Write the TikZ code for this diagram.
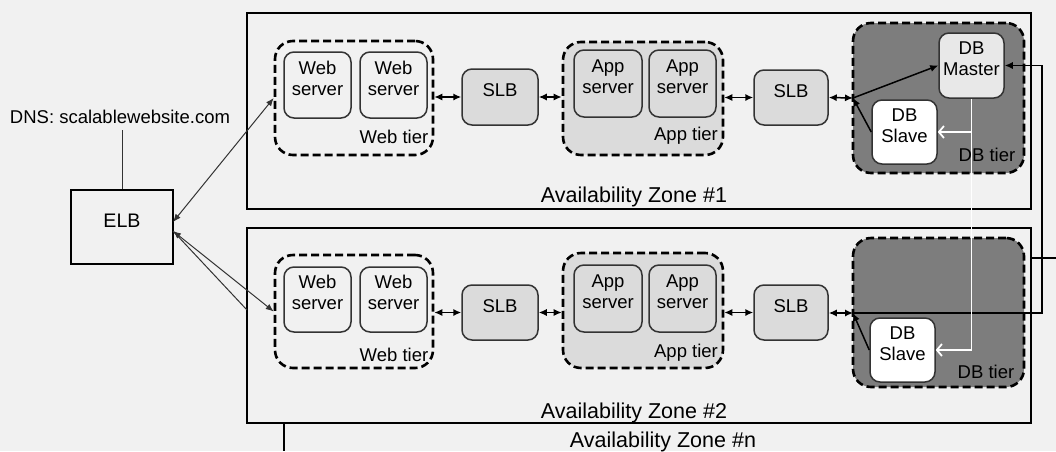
\documentclass[tikz,border=0pt]{standalone}
\usepackage{fontspec}
\setmainfont{Liberation Sans}
\usetikzlibrary{fit,arrows.meta}
\definecolor{bg}{gray}{0.945}
\definecolor{lightfill}{gray}{0.86}
\definecolor{dbfill}{gray}{0.49}
\definecolor{masterfill}{gray}{0.91}
\definecolor{boxline}{gray}{0.2}
\begin{document}
\begin{tikzpicture}[x=0.5pt,y=-0.5pt,
  txt/.style={font=\fontsize{9.25}{10.5}\selectfont, align=center, inner sep=0pt},
  zlab/.style={font=\fontsize{10.75}{12}\selectfont, inner sep=0pt},
  zonebox/.style={draw=black, line width=0.9pt, fill=bg, inner sep=0pt},
  tier/.style={draw=black, line width=1.3pt, dash pattern=on 4pt off 2pt, rounded corners=9pt, inner sep=0pt},
  srv/.style={draw=boxline, line width=0.75pt, rounded corners=5pt, inner sep=0pt, txt},
  dbl/.style={{Latex[length=4pt,width=3.6pt]}-{Latex[length=4pt,width=3.6pt]}, line width=0.75pt},
  thinarr/.style={{Latex[length=4pt,width=3.2pt]}-{Latex[length=4pt,width=3.2pt]}, line width=0.5pt, draw=boxline},
  arr/.style={-{Latex[length=4pt,width=3.6pt]}, line width=0.75pt},
  warr/.style={-{Straight Barb[length=2.5pt,width=6pt]}, draw=white, line width=0.9pt},
  plain/.style={line width=0.5pt, draw=boxline}
]
\useasboundingbox[fill=bg] (0,0) rectangle (1056,451);

% zone n (mostly hidden)
\coordinate (znA) at (284,423);
\coordinate (znB) at (284,451);
\draw[line width=0.9pt] (znA) -- (znB);
\node[zlab] (znlab) at (663,442) {Availability Zone \#n};

% zones
\node[zonebox, fit={(247,13) (1031,209)}] (z1) {};
\node[zonebox, fit={(247,228) (1031,423)}] (z2) {};
\node[zlab] (z1lab) at (634,197) {Availability Zone \#1};
\node[zlab] (z2lab) at (634,413) {Availability Zone \#2};

% DNS and ELB
\node[txt] (dns) at (120,117) {DNS: scalablewebsite.com};
\node[draw=black, line width=0.75pt, fill=bg, inner sep=0pt, fit={(71,190) (173,264)}, font=\fontsize{9.8}{11}\selectfont] (elb) {ELB};
\coordinate (dnsl) at (122,130);
\draw[plain] (dnsl) -- (elb.north);

% ---------- Zone 1 ----------
\node[tier, fit={(275,41) (433,155)}] (wt1) {};
\node[srv, fit={(284,52) (351,118)}] (ws1a) {Web\\server};
\node[srv, fit={(360,52) (427,118)}] (ws1b) {Web\\server};
\node[txt] (wt1lab) at (394,137) {Web tier};

\node[srv, fill=lightfill, fit={(462,69) (538,125)}] (slb1a) {SLB};

\node[tier, fill=lightfill, fit={(563,42) (723,155)}] (at1) {};
\node[srv, fill=lightfill, fit={(574,50) (642,117)}] (as1a) {App\\server};
\node[srv, fill=lightfill, fit={(649,50) (716,117)}] (as1b) {App\\server};
\node[txt] (at1lab) at (686,136) {App tier};

\node[srv, fill=lightfill, fit={(754,70) (828,125)}] (slb2a) {SLB};

\node[tier, fill=dbfill, fit={(853,23) (1024,173)}] (db1) {};
\node[srv, fill=masterfill, fit={(939,33) (1004,98)}] (master) {DB\\Master};
\node[srv, fill=white, fit={(872,100) (937,164)}] (slave1) {DB\\Slave};
\node[txt] (db1lab) at (987,155) {DB tier};
\coordinate (j1) at (853,98);

% ---------- Zone 2 ----------
\node[tier, fit={(275,255) (433,368)}] (wt2) {};
\node[srv, fit={(284,267) (351,332)}] (ws2a) {Web\\server};
\node[srv, fit={(360,267) (427,332)}] (ws2b) {Web\\server};
\node[txt] (wt2lab) at (394,355) {Web tier};

\node[srv, fill=lightfill, fit={(462,285) (538,340)}] (slb1b) {SLB};

\node[tier, fill=lightfill, fit={(563,253) (723,368)}] (at2) {};
\node[srv, fill=lightfill, fit={(574,265) (642,332)}] (as2a) {App\\server};
\node[srv, fill=lightfill, fit={(649,265) (716,332)}] (as2b) {App\\server};
\node[txt] (at2lab) at (686,353) {App tier};

\node[srv, fill=lightfill, fit={(754,285) (828,340)}] (slb2b) {SLB};

\node[tier, fill=dbfill, fit={(853,238) (1024,387)}] (db2) {};
\node[srv, fill=white, fit={(870,318) (935,382)}] (slave2) {DB\\Slave};
\node[txt] (db2lab) at (986,372) {DB tier};
\coordinate (j2) at (853,313);

% ---------- connectors ----------
\coordinate (e1) at (173,222);
\coordinate (e2) at (173,231);
\coordinate (zedge) at (247,310);
\draw[thinarr] (e1) -- (wt1.west);
\draw[thinarr] (e2) -- (wt2.west);
\draw[plain] (e2) -- (zedge);

\draw[dbl] (wt1.east |- slb1a.west) -- (slb1a.west);
\draw[dbl] (slb1a.east) -- (at1.west |- slb1a.east);
\draw[dbl] (at1.east |- slb2a.west) -- (slb2a.west);
\draw[dbl] (slb2a.east) -- (j1);
\draw[arr] (j1) -- (master.west);
\draw[arr] (slave1.west) -- (j1);

\draw[dbl] (wt2.east |- slb1b.west) -- (slb1b.west);
\draw[dbl] (slb1b.east) -- (at2.west |- slb1b.east);
\draw[dbl] (at2.east |- slb2b.west) -- (slb2b.west);
\draw[dbl] (slb2b.east |- j2) -- (j2);
\draw[arr] (slave2.west) -- (j2);

\coordinate (rc) at (1042,313);
\draw[arr] (j2) -- (rc) |- (master.east);
\coordinate (stubA) at (1031,258);
\coordinate (stubB) at (1056,258);
\draw[line width=0.75pt] (stubA) -- (stubB);

\draw[warr] (master.south) |- (slave2.east);
\draw[warr] (master.south |- slave1.east) -- (slave1.east);
\end{tikzpicture}
\end{document}
